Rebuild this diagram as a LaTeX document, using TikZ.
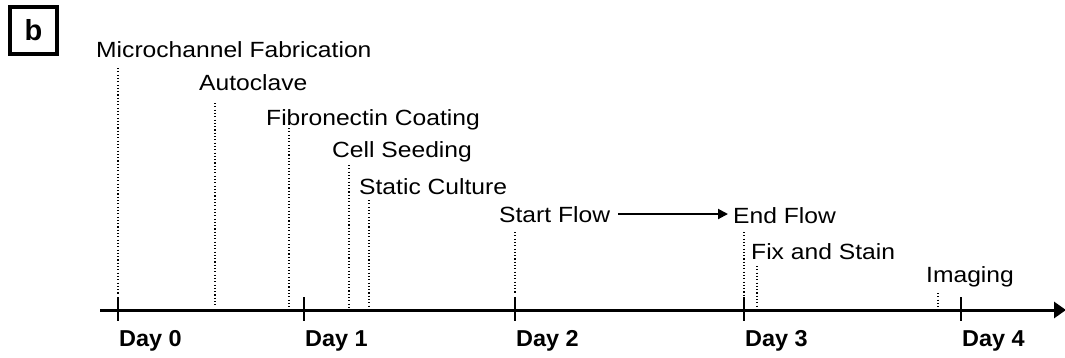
\documentclass[tikz,border=0pt]{standalone}
\usepackage{fontspec}
\setmainfont{Liberation Sans}
\newfontfamily\labfont[FakeStretch=1.12]{Liberation Sans}
\newfontfamily\dayfont[FakeStretch=1.02]{Liberation Sans}
\usetikzlibrary{arrows.meta}
\tikzset{
  lab/.style={anchor=base west,inner sep=0pt,font=\labfont\fontsize{22}{26}\selectfont},
  daylab/.style={anchor=base west,inner sep=0pt,font=\dayfont\bfseries\fontsize{23}{27}\selectfont},
  dotline/.style={line width=1.1pt,dash pattern=on 1.1pt off 2.2pt},
  axisline/.style={line width=3pt,-{Triangle[length=12pt,width=16pt]}},
  tickline/.style={line width=2pt},
  flowarrow/.style={line width=2pt,-{Triangle[length=10pt,width=10pt]}}
}
\begin{document}
\begin{tikzpicture}[x=1pt,y=-1pt]
\useasboundingbox (0,0) rectangle (1065,357);
% panel label
\node[draw,line width=4pt,minimum width=47pt,minimum height=47pt,inner sep=0pt,
  font=\bfseries\fontsize{29}{32}\selectfont] (b) at (33.5,30.5) {b};
% axis
\coordinate (ax0) at (100,310);
\coordinate (ax1) at (1066,310);
\draw[axisline] (ax0) -- (ax1);
% ticks and day labels
\foreach \n/\x in {0/118,1/304,2/515,3/744,4/961}{
  \coordinate (t\n a) at (\x,297);
  \coordinate (t\n b) at (\x,321);
  \draw[tickline] (t\n a) -- (t\n b);
  \node[daylab] (d\n) at (\x+1,346) {Day \n};
}
% events
\node[lab] (e1) at (96,57) {Microchannel Fabrication};
\node[lab] (e2) at (199,90) {Autoclave};
\node[lab] (e3) at (266,125) {Fibronectin Coating};
\node[lab] (e4) at (332,157) {Cell Seeding};
\node[lab] (e5) at (359,194) {Static Culture};
\node[lab] (e6) at (499,222) {Start Flow};
\node[lab] (e7) at (733,223) {End Flow};
\node[lab] (e8) at (751,259) {Fix and Stain};
\node[lab] (e9) at (926,282) {Imaging};
% dotted drop lines
\foreach \i/\x/\ya/\yb in {1/118/68/294, 2/215/103/307, 3/289/128/307, 4/349/165/307,
  5/369/200/307, 6/515/232/294, 7/744/232/296, 8/757/266/307, 9/938/293/307}{
  \coordinate (p\i a) at (\x,\ya);
  \coordinate (p\i b) at (\x,\yb);
  \draw[dotline] (p\i a) -- (p\i b);
}
% flow arrow
\coordinate (fa) at (618,214);
\coordinate (fb) at (728,214);
\draw[flowarrow] (fa) -- (fb);
\end{tikzpicture}
\end{document}
